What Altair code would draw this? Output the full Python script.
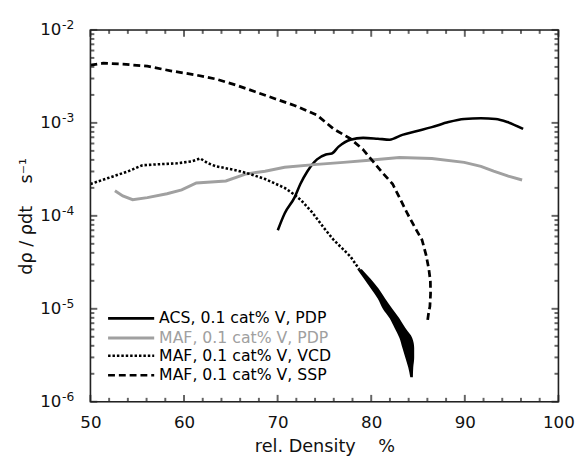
import altair as alt
import pandas as pd

# ---------------- data ----------------
acs_x = [70.02, 70.75, 71.8, 72.43, 73.17, 74.21, 75.16, 75.79, 76.52, 77.78, 79.14,
         80.71, 81.97, 83.33, 84.91, 86.48, 88.26, 89.94, 91.72, 93.29, 94.55, 96.23]
acs_y = [7.0e-5, 1.06e-4, 1.57e-4, 2.2e-4, 3.0e-4, 4.05e-4, 4.57e-4, 4.68e-4, 5.55e-4, 6.6e-4, 6.9e-4,
         6.75e-4, 6.6e-4, 7.43e-4, 8.18e-4, 9.0e-4, 1.02e-3, 1.10e-3, 1.12e-3, 1.10e-3, 1.02e-3, 8.6e-4]

pdp_x = [52.62, 53.46, 54.51, 56.08, 58.18, 59.75, 61.32, 62.89, 64.47, 66.56, 68.66,
         70.75, 74.21, 77.04, 79.46, 83.02, 86.48, 89.94, 91.72, 93.08, 94.65, 96.12]
pdp_y = [1.86e-4, 1.64e-4, 1.49e-4, 1.57e-4, 1.73e-4, 1.9e-4, 2.26e-4, 2.31e-4, 2.37e-4, 2.81e-4, 3.02e-4,
         3.33e-4, 3.58e-4, 3.76e-4, 3.94e-4, 4.24e-4, 4.14e-4, 3.76e-4, 3.41e-4, 3.02e-4, 2.67e-4, 2.43e-4]

vcd_x = [50.0, 51.89, 53.98, 55.56, 57.13, 59.22, 60.8, 61.74, 62.58, 63.42, 65.51,
         67.09, 68.66, 70.75, 71.8, 72.54, 73.69, 74.95, 75.99, 77.04, 77.78, 78.72]
vcd_y = [2.2e-4, 2.55e-4, 3.0e-4, 3.5e-4, 3.58e-4, 3.67e-4, 3.85e-4, 4.14e-4, 3.67e-4, 3.41e-4, 3.1e-4,
         2.81e-4, 2.49e-4, 2.0e-4, 1.69e-4, 1.46e-4, 1.09e-4, 7.4e-5, 5.5e-5, 4.33e-5, 3.65e-5, 2.66e-5]

# noisy tail of the VCD curve (a filled band)
vcd_band_y = [2.66e-5, 1.64e-5, 1.28e-5, 1.0e-5, 7.9e-6, 6.2e-6, 4.86e-6, 3.8e-6, 2.98e-6, 2.34e-6, 1.84e-6]
vcd_band_lo = [78.5, 79.98, 80.71, 81.24, 81.97, 82.5, 83.02, 83.33, 83.65, 83.96, 84.17]
vcd_band_hi = [79.0, 80.8, 81.5, 82.25, 83.0, 83.65, 84.38, 84.59, 84.59, 84.49, 84.45]

ssp_x = [50.0, 51.36, 53.46, 56.08, 58.7, 61.32, 63.42, 65.51, 67.61, 69.71, 71.8, 74.21,
         75.99, 77.78, 79.14, 80.19, 81.24, 82.29, 83.02, 83.86, 84.7, 85.43, 85.85, 86.16,
         86.32, 86.34, 86.27, 86.11, 86.01]
ssp_y = [4.17e-3, 4.38e-3, 4.28e-3, 4.07e-3, 3.61e-3, 3.27e-3, 2.96e-3, 2.56e-3, 2.16e-3, 1.82e-3,
         1.54e-3, 1.21e-3, 8.6e-4, 6.75e-4, 5.15e-4, 3.85e-4, 2.88e-4, 2.2e-4, 1.57e-4, 1.06e-4,
         7.4e-5, 5.5e-5, 3.83e-5, 2.66e-5, 1.99e-5, 1.45e-5, 1.06e-5, 8.7e-6, 7.3e-6]

legend_labels = ["ACS, 0.1 cat% V, PDP", "MAF, 0.1 cat% V, PDP",
                 "MAF, 0.1 cat% V, VCD", "MAF, 0.1 cat% V, SSP"]
legend_colors = ["#000000", "#a0a0a0", "#000000", "#000000"]

x_major = [50, 60, 70, 80, 90, 100]
x_minor = [52, 54, 56, 58, 62, 64, 66, 68, 72, 74, 76, 78, 82, 84, 86, 88, 92, 94, 96, 98]
y_major = [1e-6, 1e-5, 1e-4, 1e-3, 1e-2]
y_exponents = ["-6", "-5", "-4", "-3", "-2"]
y_minor = [k * 10.0 ** d for d in [-6, -5, -4, -3] for k in range(2, 10)]

FONT = "DejaVu Sans"
W, H = 477, 379
NB = "\u00a0"

xs = alt.Scale(domain=[50, 100], nice=False, zero=False)
ys = alt.Scale(type="log", domain=[1e-6, 1e-2], nice=False)


def series_df(x, y):
    return pd.DataFrame({"x": x, "y": y, "i": list(range(len(x)))})


X = alt.X("x:Q", scale=xs,
          axis=alt.Axis(values=x_major, ticks=False, domain=False, grid=False, labelFlush=False,
                        labelFontSize=17, labelPadding=13, labelFont=FONT, labelColor="#111",
                        title="rel." + NB + "Density" + NB * 4 + "%", titleFont=FONT, titleFontSize=18,
                        titleFontWeight="normal", titleColor="#111", titlePadding=8))
Y = alt.Y("y:Q", scale=ys,
          axis=alt.Axis(values=y_major, labelExpr="'10'", ticks=False, domain=False, grid=False,
                        labelFlush=False,
                        labelFontSize=17, labelPadding=30, labelFont=FONT, labelColor="#111",
                        title="dρ" + NB + "/" + NB + "ρdt" + NB * 4 + "s⁻¹", titleFont=FONT,
                        titleFontSize=18, titleFontWeight="normal", titleColor="#111",
                        titlePadding=4))

base_acs = alt.Chart(series_df(acs_x, acs_y)).mark_line(
    color="#000", strokeWidth=2.6, clip=True, interpolate="monotone").encode(x=X, y=Y, order="i:Q")
base_pdp = alt.Chart(series_df(pdp_x, pdp_y)).mark_line(
    color="#a0a0a0", strokeWidth=3, clip=True).encode(
    x=alt.X("x:Q", scale=xs), y=alt.Y("y:Q", scale=ys), order="i:Q")
base_vcd = alt.Chart(series_df(vcd_x, vcd_y)).mark_line(
    color="#000", strokeWidth=2.6, strokeDash=[2.5, 2], clip=True).encode(
    x=alt.X("x:Q", scale=xs), y=alt.Y("y:Q", scale=ys), order="i:Q")
band_vcd = alt.Chart(pd.DataFrame({"y": vcd_band_y, "lo": vcd_band_lo, "hi": vcd_band_hi})).mark_area(
    color="#000", orient="horizontal", opacity=1, interpolate="monotone").encode(
    y=alt.Y("y:Q", scale=ys), x=alt.X("lo:Q", scale=xs), x2="hi:Q")
base_ssp = alt.Chart(series_df(ssp_x, ssp_y)).mark_line(
    color="#000", strokeWidth=2.8, strokeDash=[7, 4], clip=True).encode(
    x=alt.X("x:Q", scale=xs), y=alt.Y("y:Q", scale=ys), order="i:Q")

# inward ticks
TC = "#222"
ticks = []
for df, ln in [(pd.DataFrame({"x": x_major}), 7), (pd.DataFrame({"x": x_minor}), 4)]:
    for ypos in [H - ln / 2, ln / 2]:
        ticks.append(alt.Chart(df).mark_tick(color=TC, thickness=2, size=ln, orient="vertical").encode(
            x=alt.X("x:Q", scale=xs), y=alt.value(ypos)))
for df, ln in [(pd.DataFrame({"y": y_major}), 7), (pd.DataFrame({"y": y_minor}), 4)]:
    for xpos in [ln / 2, W - ln / 2]:
        ticks.append(alt.Chart(df).mark_tick(color=TC, thickness=2, size=ln, orient="horizontal").encode(
            y=alt.Y("y:Q", scale=ys), x=alt.value(xpos)))

# plot frame
frame = alt.Chart(pd.DataFrame({"k": [0]})).mark_rect(
    fill=None, stroke="#222", strokeWidth=1.6).encode(
    x=alt.value(0), x2=alt.value(W), y=alt.value(0), y2=alt.value(H))

# superscript exponents of the y tick labels
exps = alt.Chart(pd.DataFrame({"y": y_major, "e": y_exponents})).mark_text(
    align="left", baseline="middle", font=FONT, fontSize=12.5, color="#111", dy=-5).encode(
    y=alt.Y("y:Q", scale=ys), x=alt.value(-29), text="e:N")

# manual legend
leg_rows_y = [294, 314, 332, 352]
leg_dash = [None, None, [2.5, 2], [7, 4]]
legend_layers = []
one = pd.DataFrame({"k": [0]})
for lab, col, yy, dash in zip(legend_labels, legend_colors, leg_rows_y, leg_dash):
    kw = dict(color=col, strokeWidth=2.6 if col == "#000000" else 3)
    if dash is not None:
        kw["strokeDash"] = dash
    legend_layers.append(alt.Chart(one).mark_rule(**kw).encode(
        x=alt.value(18), x2=alt.value(65), y=alt.value(yy)))
    legend_layers.append(alt.Chart(pd.DataFrame({"t": [lab]})).mark_text(
        align="left", baseline="middle", font=FONT, fontSize=16, color=col).encode(
        x=alt.value(70), y=alt.value(yy), text="t:N"))

chart = alt.layer(base_acs, *ticks, base_pdp, base_vcd, band_vcd, base_ssp, frame, exps,
                  *legend_layers).properties(
    width=W, height=H,
    autosize=alt.AutoSizeParams(type="none"),
    padding={"left": 84, "top": 18, "right": 22, "bottom": 54},
).configure_view(stroke=None).configure(background="white")

chart.save("out.html", embed_options={"renderer": "svg", "actions": False})
